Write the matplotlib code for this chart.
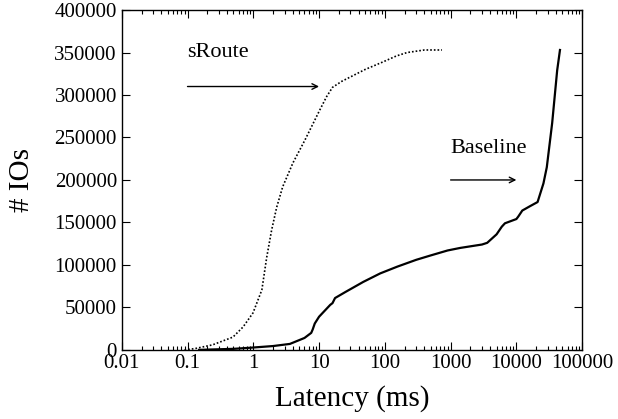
import numpy as np
import matplotlib
matplotlib.use("Agg")
from matplotlib import pyplot as plt
from matplotlib.ticker import FuncFormatter, LogLocator, NullLocator

# latency (ms) vs cumulative number of IOs
sroute_lat = [0.09, 0.13, 0.24, 0.49, 0.70, 0.99, 1.35, 1.6, 1.9, 2.27, 2.8, 4.0,
              6.1, 10.2, 13, 16, 22, 29.5, 50, 94, 150, 218, 400, 740]
sroute_ios = [0, 1500, 5900, 15000, 27000, 43500, 70600, 109000, 141000, 168000,
              192000, 220000, 247000, 282000, 298000, 309000, 316000, 321000,
              330000, 339000, 346000, 350000, 353000, 353000]

base_lat = [0.15, 0.5, 0.9, 2.0, 3.6, 6, 7.6, 8.0, 8.6, 10, 14.8, 16, 17.5, 25, 47,
            85, 155, 300, 490, 900, 1400, 3000, 3600, 5000, 6000, 6700, 10000,
            10700, 12300, 16000, 21000, 25800, 29000, 35000, 41700, 46000]
base_ios = [0, 1200, 2500, 4500, 7000, 14000, 20000, 24000, 31000, 39000, 53000,
            55000, 61000, 68000, 80000, 90000, 98000, 106000, 111000, 117000,
            120000, 124000, 126000, 136000, 145000, 149000, 154000, 157000,
            164000, 169000, 174000, 196000, 215000, 267000, 329000, 353000]

xticks = [0.01, 0.1, 1, 10, 100, 1000, 10000, 100000]
yticks = [0, 50000, 100000, 150000, 200000, 250000, 300000, 350000, 400000]

plt.rcParams['font.family'] = ['Liberation Serif', 'DejaVu Serif']

fig = plt.figure(figsize=(6.18, 4.19), dpi=100)
ax = fig.add_axes([0.197, 0.165, 0.745, 0.811])

ax.plot(sroute_lat, sroute_ios, color='black', linestyle=(0, (1, 1.2)), linewidth=1.2)
ax.plot(base_lat, base_ios, color='black', linestyle='-', linewidth=1.6)

ax.set_xscale('log')
ax.set_xlim(0.01, 100000)
ax.set_ylim(0, 400000)
ax.set_xticks(xticks)
ax.xaxis.set_major_formatter(FuncFormatter(lambda v, p: '%g' % v))
ax.xaxis.set_minor_locator(LogLocator(base=10, subs=np.arange(2, 10), numticks=20))
ax.set_yticks(yticks)
ax.yaxis.set_minor_locator(NullLocator())
ax.tick_params(which='both', direction='in', top=True, right=True, labelsize=15, width=0.8)
ax.tick_params(which='major', length=6)
ax.tick_params(which='minor', length=3)
ax.tick_params(axis='x', pad=3)
for s in ax.spines.values():
    s.set_linewidth(1.0)

ax.set_xlabel('Latency (ms)', fontsize=21, labelpad=9)
ax.set_ylabel('# IOs', fontsize=21, labelpad=14)

ax.annotate('', xy=(10, 310000), xytext=(0.1, 310000),
            arrowprops=dict(arrowstyle='->', color='black', lw=1.0, shrinkA=0, shrinkB=0))
ax.text(0.1, 350000, 'sRoute', fontsize=16, va='center', ha='left')
ax.annotate('', xy=(10000, 200000), xytext=(1000, 200000),
            arrowprops=dict(arrowstyle='->', color='black', lw=1.0, shrinkA=0, shrinkB=0))
ax.text(1000, 237000, 'Baseline', fontsize=16, va='center', ha='left')

fig.savefig('out.png', dpi=100)
